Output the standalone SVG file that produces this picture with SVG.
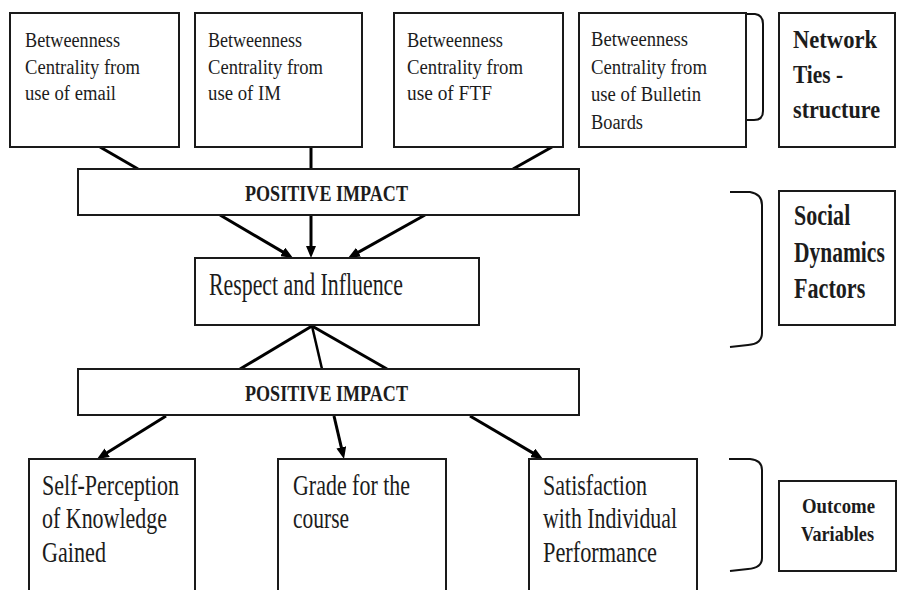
<svg xmlns="http://www.w3.org/2000/svg" width="899" height="590" viewBox="0 0 899 590">
<style>
.box{fill:#fff;stroke:#1a1a1a;stroke-width:2}
.t{font-family:"Liberation Serif","Times New Roman",serif;fill:#1c1c1c}
.s{font-size:20px}
.pi{font-size:23px;font-weight:bold}
.m{font-size:30px}
.b{font-weight:bold}
.ln{stroke:#000;stroke-width:3;fill:none}
.br{stroke:#111;stroke-width:2;fill:none}
</style>
<defs>
<marker id="ah" markerUnits="userSpaceOnUse" markerWidth="12" markerHeight="10" refX="4" refY="5" orient="auto">
<path d="M0,0 L12,5 L0,10 z" fill="#000"/>
</marker>
</defs>
<rect width="899" height="590" fill="#fff"/>

<g id="connectors">
<line class="ln" x1="100" y1="147" x2="138" y2="169"/>
<line class="ln" x1="311" y1="147" x2="311" y2="169"/>
<line class="ln" x1="552" y1="147" x2="513" y2="169"/>
<line class="ln" x1="220" y1="215" x2="286.1" y2="253.9" marker-end="url(#ah)"/>
<line class="ln" x1="311" y1="215" x2="311" y2="250" marker-end="url(#ah)"/>
<line class="ln" x1="425" y1="215" x2="355" y2="254.1" marker-end="url(#ah)"/>
<line class="ln" x1="312" y1="326" x2="240" y2="369"/>
<line class="ln" x1="312" y1="326" x2="322" y2="369" style="stroke-width:2.5"/>
<line class="ln" x1="312" y1="326" x2="387" y2="369"/>
<line class="ln" x1="166" y1="416" x2="103.8" y2="454.8" marker-end="url(#ah)"/>
<line class="ln" x1="334" y1="416" x2="342.2" y2="451.2" marker-end="url(#ah)"/>
<line class="ln" x1="470" y1="416" x2="536.1" y2="454.9" marker-end="url(#ah)"/>
</g>

<g id="brackets">
<path class="br" d="M746,14 H755 Q763,15 763,24 V111 Q763,120 754,120 H746"/>
<path class="br" d="M730,192 H750 Q762,194 762,205 V333 Q762,344 748,345 L730,347"/>
<path class="br" d="M729,459 H750 Q762,460 762,470 V558 Q762,568 748,569 L730,571"/>
</g>

<g id="email">
<rect class="box" x="10" y="13" width="169" height="134"/>
<text class="t s" x="25" y="47" textLength="95" lengthAdjust="spacingAndGlyphs">Betweenness</text>
<text class="t s" x="25" y="74" textLength="115" lengthAdjust="spacingAndGlyphs">Centrality from</text>
<text class="t s" x="25" y="100" textLength="91" lengthAdjust="spacingAndGlyphs">use of email</text>
</g>
<g id="im">
<rect class="box" x="195" y="13" width="167" height="134"/>
<text class="t s" x="208" y="47" textLength="94" lengthAdjust="spacingAndGlyphs">Betweenness</text>
<text class="t s" x="208" y="74" textLength="115" lengthAdjust="spacingAndGlyphs">Centrality from</text>
<text class="t s" x="208" y="100" textLength="73" lengthAdjust="spacingAndGlyphs">use of IM</text>
</g>
<g id="ftf">
<rect class="box" x="394" y="13" width="169" height="134"/>
<text class="t s" x="407" y="47" textLength="96" lengthAdjust="spacingAndGlyphs">Betweenness</text>
<text class="t s" x="407" y="74" textLength="116" lengthAdjust="spacingAndGlyphs">Centrality from</text>
<text class="t s" x="407" y="100" textLength="85" lengthAdjust="spacingAndGlyphs">use of FTF</text>
</g>
<g id="bulletin">
<rect class="box" x="579" y="13" width="167" height="134"/>
<text class="t s" x="591" y="46" textLength="97" lengthAdjust="spacingAndGlyphs">Betweenness</text>
<text class="t s" x="591" y="74" textLength="116" lengthAdjust="spacingAndGlyphs">Centrality from</text>
<text class="t s" x="591" y="101" textLength="110" lengthAdjust="spacingAndGlyphs">use of Bulletin</text>
<text class="t s" x="591" y="129" textLength="52" lengthAdjust="spacingAndGlyphs">Boards</text>
</g>
<g id="network-ties">
<rect class="box" x="779" y="13" width="116" height="134"/>
<text class="t b" x="793" y="48" font-size="26" textLength="84" lengthAdjust="spacingAndGlyphs">Network</text>
<text class="t b" x="793" y="83" font-size="26" textLength="50" lengthAdjust="spacingAndGlyphs">Ties -</text>
<text class="t b" x="793" y="118" font-size="26" textLength="87" lengthAdjust="spacingAndGlyphs">structure</text>
</g>

<g id="positive-impact-1">
<rect class="box" x="78" y="169" width="501" height="46"/>
<text class="t pi" x="245" y="201" textLength="163" lengthAdjust="spacingAndGlyphs">POSITIVE IMPACT</text>
</g>

<g id="respect">
<rect class="box" x="195" y="258" width="284" height="67"/>
<text class="t" x="209" y="295" font-size="31" textLength="194" lengthAdjust="spacingAndGlyphs">Respect and Influence</text>
</g>
<g id="social-dynamics">
<rect class="box" x="779" y="191" width="116" height="134"/>
<text class="t b" transform="translate(794,225) scale(0.75,1)" font-size="29" textLength="75" lengthAdjust="spacingAndGlyphs">Social</text>
<text class="t b" transform="translate(794,262) scale(0.75,1)" font-size="29" textLength="121" lengthAdjust="spacingAndGlyphs">Dynamics</text>
<text class="t b" transform="translate(794,298) scale(0.75,1)" font-size="29" textLength="95" lengthAdjust="spacingAndGlyphs">Factors</text>
</g>

<g id="positive-impact-2">
<rect class="box" x="78" y="369" width="501" height="46"/>
<text class="t pi" x="245" y="401" textLength="163" lengthAdjust="spacingAndGlyphs">POSITIVE IMPACT</text>
</g>

<g id="self-perception">
<rect class="box" x="29" y="459" width="166" height="140"/>
<text class="t m" x="42" y="495" textLength="137" lengthAdjust="spacingAndGlyphs">Self-Perception</text>
<text class="t m" x="42" y="528" textLength="125" lengthAdjust="spacingAndGlyphs">of Knowledge</text>
<text class="t m" x="42" y="562" textLength="64" lengthAdjust="spacingAndGlyphs">Gained</text>
</g>
<g id="grade">
<rect class="box" x="278" y="459" width="168" height="140"/>
<text class="t m" x="293" y="495" textLength="117" lengthAdjust="spacingAndGlyphs">Grade for the</text>
<text class="t m" x="293" y="528" textLength="56" lengthAdjust="spacingAndGlyphs">course</text>
</g>
<g id="satisfaction">
<rect class="box" x="529" y="459" width="168" height="140"/>
<text class="t m" x="543" y="495" textLength="104" lengthAdjust="spacingAndGlyphs">Satisfaction</text>
<text class="t m" x="543" y="528" textLength="134" lengthAdjust="spacingAndGlyphs">with Individual</text>
<text class="t m" x="543" y="562" textLength="114" lengthAdjust="spacingAndGlyphs">Performance</text>
</g>
<g id="outcome-variables">
<rect class="box" x="779" y="481" width="117" height="90"/>
<text class="t b" x="802" y="513" font-size="21" textLength="73" lengthAdjust="spacingAndGlyphs">Outcome</text>
<text class="t b" x="801" y="541" font-size="21" textLength="73" lengthAdjust="spacingAndGlyphs">Variables</text>
</g>
</svg>
